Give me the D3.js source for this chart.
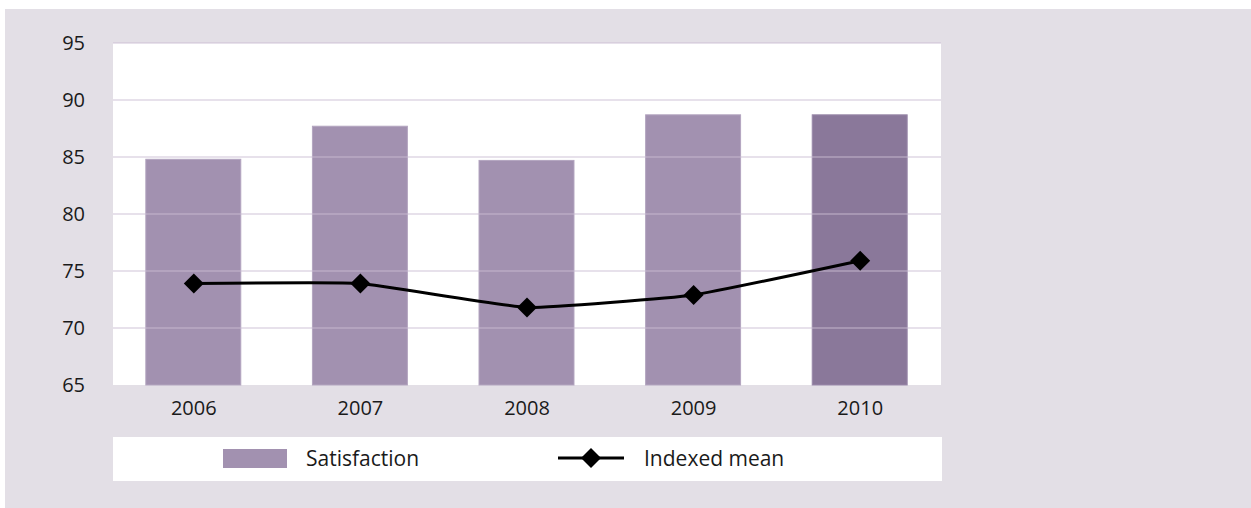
<!DOCTYPE html>
<html>
<head>
<meta charset="utf-8">
<script src="https://cdn.jsdelivr.net/npm/d3@7"></script>
<style>
  html, body { margin: 0; padding: 0; background: #ffffff; }
  svg { display: block; }
  text { font-family: "Open Sans", "Noto Sans", sans-serif; fill: #1a1a1a; }
</style>
</head>
<body>
<svg id="chart" width="1251" height="508"></svg>
<script>
// Survey years and results
const years = ["2006", "2007", "2008", "2009", "2010"];
const satisfaction = [84.8, 87.7, 84.7, 88.7, 88.7];
const indexedMean = [73.9, 73.9, 71.8, 72.9, 75.9];
const yTicks = [65, 70, 75, 80, 85, 90, 95];
const legendLabels = ["Satisfaction", "Indexed mean"];

const svg = d3.select("#chart");
const W = 1251, H = 508;

const plot = { left: 113, right: 941, top: 43, bottom: 385 };

// Outer panel
svg.append("rect")
  .attr("x", 5).attr("y", 9)
  .attr("width", W - 5).attr("height", H - 9)
  .attr("fill", "#e3dfe6");

// Plot background
svg.append("rect")
  .attr("x", plot.left).attr("y", plot.top)
  .attr("width", plot.right - plot.left).attr("height", plot.bottom - plot.top)
  .attr("fill", "#ffffff");

const x = d3.scaleBand()
  .domain(years)
  .range([plot.left, plot.right])
  .paddingInner(0.43)
  .paddingOuter(0.2);

const y = d3.scaleLinear()
  .domain([65, 95])
  .range([plot.bottom, plot.top]);

// Bars
svg.append("g").selectAll("rect")
  .data(years)
  .join("rect")
  .attr("x", d => x(d) - 0.5)
  .attr("width", x.bandwidth())
  .attr("y", (d, i) => y(satisfaction[i]))
  .attr("height", (d, i) => y(65) - y(satisfaction[i]))
  .attr("fill", (d, i) => i === years.length - 1 ? "#8a789a" : "#a291b0")
  .attr("stroke", (d, i) => i === years.length - 1 ? "#9a89aa" : "#b3a5bf")
  .attr("stroke-width", 1);

// Gridlines drawn over the bars, translucent
svg.append("g").selectAll("line")
  .data(yTicks.filter(t => t > 65))
  .join("line")
  .attr("x1", plot.left).attr("x2", plot.right)
  .attr("y1", d => y(d)).attr("y2", d => y(d))
  .attr("stroke", "#c9bdd2")
  .attr("stroke-opacity", 0.45)
  .attr("stroke-width", 2);

// Y axis labels
const yAxis = d3.axisLeft(y).tickValues(yTicks).tickSize(0).tickPadding(0);
const yg = svg.append("g").attr("transform", `translate(${plot.left - 28},0)`).call(yAxis);
yg.select(".domain").remove();
yg.selectAll("text")
  .attr("font-size", 20)
  .attr("font-family", "'Open Sans', sans-serif")
  .attr("fill", "#2a2a2a");

// X axis labels
const xAxis = d3.axisBottom(x).tickSize(0).tickPadding(0);
const xg = svg.append("g").attr("transform", `translate(0,${plot.bottom + 16})`).call(xAxis);
xg.select(".domain").remove();
xg.selectAll("text")
  .attr("font-size", 20)
  .attr("font-family", "'Open Sans', sans-serif")
  .attr("fill", "#000");

// Indexed mean line
const cx = (d, i) => x(years[i]) + x.bandwidth() / 2;
const line = d3.line()
  .x((d, i) => cx(d, i))
  .y(d => y(d))
  .curve(d3.curveCardinal.tension(0.65));

svg.append("path")
  .datum(indexedMean)
  .attr("d", line)
  .attr("fill", "none")
  .attr("stroke", "#000")
  .attr("stroke-width", 3);

const diamond = d3.symbol().type(d3.symbolSquare).size(200);
svg.append("g").selectAll("path")
  .data(indexedMean)
  .join("path")
  .attr("d", diamond)
  .attr("transform", (d, i) => `translate(${cx(d, i)},${y(d)}) rotate(45)`)
  .attr("fill", "#000");

// Legend
const legendY = 458;
svg.append("rect")
  .attr("x", plot.left).attr("y", 437)
  .attr("width", plot.right - plot.left + 1).attr("height", 44)
  .attr("fill", "#ffffff");

svg.append("rect")
  .attr("x", 223).attr("y", 449)
  .attr("width", 64).attr("height", 19)
  .attr("fill", "#a291b0");

svg.append("text")
  .attr("x", 306).attr("y", legendY + 1)
  .attr("dy", "0.35em")
  .attr("font-size", 21)
  .attr("fill", "#000")
  .text(legendLabels[0]);

svg.append("line")
  .attr("x1", 558).attr("x2", 624)
  .attr("y1", legendY).attr("y2", legendY)
  .attr("stroke", "#000").attr("stroke-width", 3);

svg.append("path")
  .attr("d", diamond)
  .attr("transform", `translate(591,${legendY}) rotate(45)`)
  .attr("fill", "#000");

svg.append("text")
  .attr("x", 644).attr("y", legendY + 1)
  .attr("dy", "0.35em")
  .attr("font-size", 21)
  .attr("fill", "#000")
  .text(legendLabels[1]);
</script>
</body>
</html>
